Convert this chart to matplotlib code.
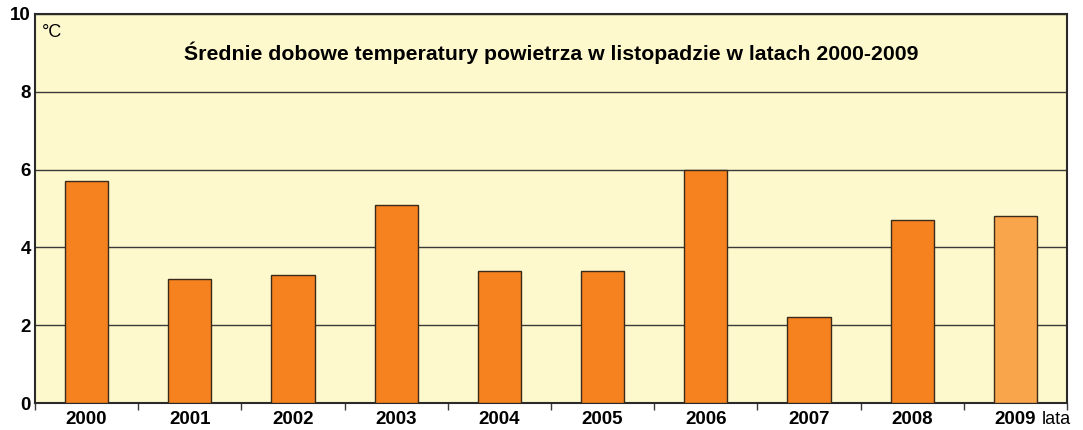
import matplotlib
matplotlib.use("Agg")
import matplotlib.pyplot as plt
import numpy as np

plt.rcParams['font.family'] = ['Liberation Sans', 'DejaVu Sans']

years = ["2000", "2001", "2002", "2003", "2004", "2005", "2006", "2007", "2008", "2009"]
temps = [5.7, 3.2, 3.3, 5.1, 3.4, 3.4, 6.0, 2.2, 4.7, 4.8]
bar_colors = ["#F5821F"] * 9 + ["#F9A54B"]

fig = plt.figure(figsize=(10.83, 4.30), dpi=100)
ax = fig.add_axes([35/1083, 27/430, 1032/1083, 389/430])
ax.set_facecolor("#FEF9CC")

x = np.arange(len(years))
ax.set_axisbelow(True)
ax.yaxis.grid(True, color="#3a3a3a", linewidth=1.0)
ax.bar(x, temps, width=0.42, color=bar_colors, edgecolor="#3a2a1a", linewidth=1.0, zorder=3)

ax.set_xlim(-0.5, len(years) - 0.5)
ax.set_ylim(0, 10)
ax.set_yticks([0, 2, 4, 6, 8, 10])
ax.set_yticklabels(["0", "2", "4", "6", "8", "10"], fontsize=13.5, fontweight="bold")
ax.set_xticks(x)
ax.set_xticklabels(years, fontsize=13.5, fontweight="bold")
ax.tick_params(axis="x", length=0, pad=6)
ax.tick_params(axis="y", length=0, pad=3)
ax.set_xticks(np.arange(-0.5, len(years)), minor=True)
ax.tick_params(axis="x", which="minor", length=5, width=1, color="#3a3a3a", direction="out")

for s in ax.spines.values():
    s.set_color("#2a2a2a")
    s.set_linewidth(1.5)

ax.text(0.007, 0.975, "°C", transform=ax.transAxes, fontsize=13, va="top", ha="left")
ax.text(0.5, 0.9, "Średnie dobowe temperatury powietrza w listopadzie w latach 2000-2009",
        transform=ax.transAxes, fontsize=15.3, fontweight="bold", ha="center", va="center")
ax.text(9.255, -0.043, "lata", fontsize=13, ha="left", va="center",
        transform=ax.get_xaxis_transform())

fig.savefig("out.png", dpi=100)
